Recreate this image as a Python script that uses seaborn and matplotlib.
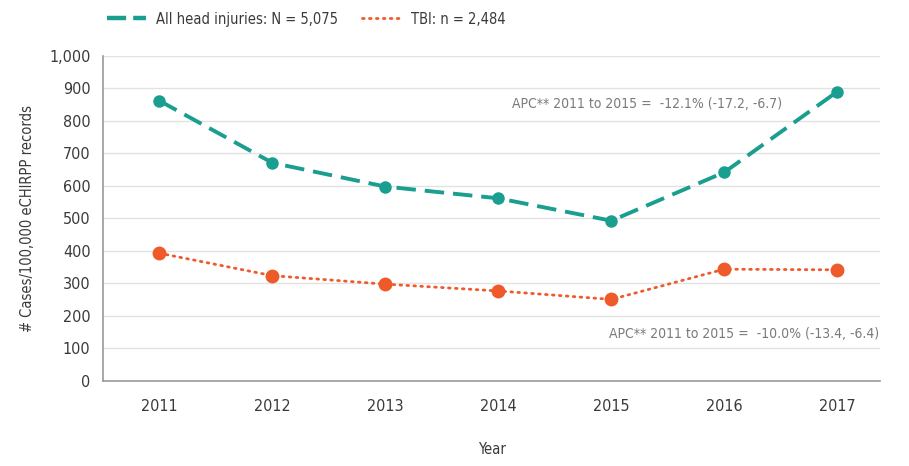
import pandas as pd
import matplotlib.pyplot as plt
import seaborn as sns
from matplotlib.lines import Line2D

# --- Data ---
years = [2011, 2012, 2013, 2014, 2015, 2016, 2017]
head_injuries = [862, 671, 598, 562, 493, 642, 890]
tbi = [393, 324, 298, 277, 251, 344, 342]

head_label = 'All head injuries: N = 5,075'
tbi_label = 'TBI: n = 2,484'
head_apc = 'APC** 2011 to 2015 =  -12.1% (-17.2, -6.7)'
tbi_apc = 'APC** 2011 to 2015 =  -10.0% (-13.4, -6.4)'

teal = '#1a9e8f'
orange = '#ee5a2a'
text_grey = '#3a3a3a'
note_grey = '#7a7a7a'

df = pd.DataFrame({'Year': years, 'Head': head_injuries, 'TBI': tbi})

sns.set_style('white')
# condensed face gets closer to the narrow font of the original
plt.rcParams['font.family'] = ['DejaVu Sans']
plt.rcParams['font.stretch'] = 'condensed'

fig = plt.figure(figsize=(9.09, 4.66), dpi=100)
ax = fig.add_axes([0.1133, 0.1824, 0.855, 0.6976])

sns.lineplot(data=df, x='Year', y='Head', color=teal, linewidth=2.8,
             marker='o', markersize=9, markeredgewidth=0, ax=ax,
             label='_nolegend_')
ax.lines[-1].set_dashes((5, 2.3))
sns.lineplot(data=df, x='Year', y='TBI', color=orange, linewidth=2.0,
             marker='o', markersize=10, markeredgewidth=0, ax=ax,
             label='_nolegend_')
ax.lines[-1].set_dashes((0.6, 1.9))
ax.lines[-1].set_dash_capstyle('round')

# axes and ticks: ticks sit between the years, labels at the centres
ax.set_ylim(0, 1000)
ax.set_xlim(2010.5, 2017.38)
ax.set_yticks(range(0, 1001, 100))
ax.set_yticklabels([f'{v:,}' for v in range(0, 1001, 100)])
ax.set_xticks([y + 0.5 for y in years[:-1]])
ax.set_xticklabels([])
ax.set_xticks(years, minor=True)
ax.set_xticklabels([str(y) for y in years], minor=True)
ax.tick_params(axis='x', which='major', direction='in', length=10, color='#999999', width=0.8)
ax.tick_params(axis='x', which='minor', length=0, pad=13, labelsize=11.5, labelcolor=text_grey)
ax.tick_params(axis='y', length=3, color='#999999', width=0.8, pad=6, labelsize=11.5, labelcolor=text_grey)

ax.grid(axis='y', color='#e2e2e2', linewidth=1)
ax.set_axisbelow(True)
for side in ['top', 'right']:
    ax.spines[side].set_visible(False)
for side in ['left', 'bottom']:
    ax.spines[side].set_color('#999999')
    ax.spines[side].set_linewidth(1.2)

ax.set_xlabel('Year', fontsize=10.5, color=text_grey, labelpad=20)
ax.set_ylabel('# Cases/100,000 eCHIRPP records', fontsize=10.5,
              color=text_grey, labelpad=10)

# APC notes
ax.text(2014.12, 852, head_apc, fontsize=10, color=note_grey, va='center')
ax.text(2014.98, 145, tbi_apc, fontsize=10, color=note_grey, va='center')

# legend without markers, above the plot
handles = [
    Line2D([], [], color=teal, linewidth=3.2, dashes=(4.3, 1.6)),
    Line2D([], [], color=orange, linewidth=2.0, dashes=(0.6, 1.9), dash_capstyle='round'),
]
leg = ax.legend(handles, [head_label, tbi_label], ncol=2, frameon=False,
                loc='lower left', bbox_to_anchor=(-0.012, 1.05), fontsize=10.5,
                handlelength=2.7, columnspacing=1.6, handletextpad=0.7)
for t in leg.get_texts():
    t.set_color(text_grey)

fig.savefig('out.png', dpi=100)
